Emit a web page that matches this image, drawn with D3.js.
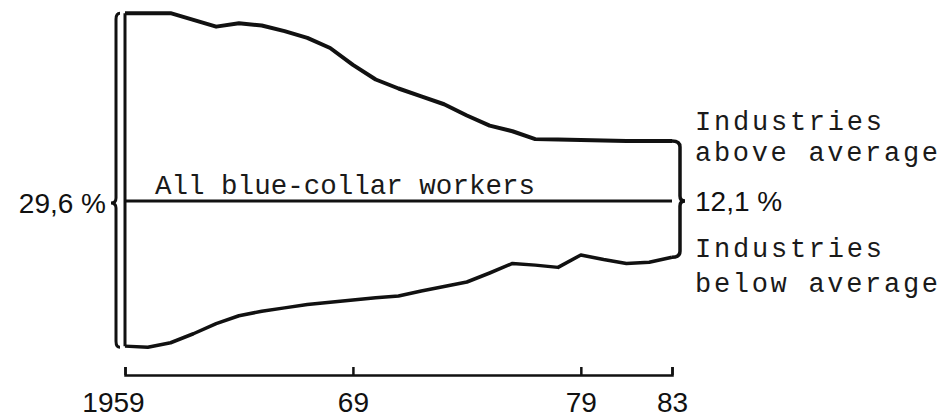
<!DOCTYPE html>
<html>
<head>
<meta charset="utf-8">
<script src="https://cdn.jsdelivr.net/npm/d3@7"></script>
<style>
  body { margin: 0; background: #fff; }
  #chart { width: 950px; height: 419px; }
  .mono { font-family: "Liberation Mono", "Courier New", monospace; fill: #1a1a1a; }
  .sans { font-family: "Liberation Sans", Arial, sans-serif; fill: #111; }
</style>
</head>
<body>
<div id="chart"></div>
<script>
/*
DATA: deviation of blue-collar share from the all-industry average,
in percentage points
*/
const years = [1959, 1960, 1961, 1962, 1963, 1964, 1965, 1966, 1967, 1968, 1969,
    1970, 1971, 1972, 1973, 1974, 1975, 1976, 1977, 1978, 1979, 1980, 1981, 1982, 1983];
const aboveAverage = [16.7, 16.7, 16.7, 16.1, 15.5, 15.8, 15.6, 15.1, 14.5, 13.6, 12.1,
    10.8, 10.0, 9.3, 8.6, 7.6, 6.7, 6.2, 5.5, 5.47, 5.42, 5.38, 5.33, 5.33, 5.33];
const belowAverage = [-12.9, -13.0, -12.6, -11.8, -10.9, -10.2, -9.8, -9.5, -9.2, -9.0, -8.8,
    -8.6, -8.45, -8.0, -7.6, -7.2, -6.4, -5.55, -5.7, -5.9, -4.8, -5.2, -5.55, -5.45, -5.0];
const tickYears = [1959, 1969, 1979, 1983];
const tickLabels = ["1959", "69", "79", "83"];
const spreadStart = "29,6 %";
const spreadEnd = "12,1 %";

const width = 950;
const height = 419;
const svg = d3.select("#chart")
    .append("svg")
    .attr("width", width)
    .attr("height", height);

/* SCALES */
const x = d3.scaleLinear()
    .domain([1959, 1983])
    .range([125, 672]);

const y = d3.scaleLinear()
    .domain([-14, 18])
    .range([358.5, -1.5]);

const upper = years.map((d, i) => ({ year: d, value: aboveAverage[i] }));
const lower = years.map((d, i) => ({ year: d, value: belowAverage[i] }));

const line = d3.line()
    .x(d => x(d.year))
    .y(d => y(d.value));

/* THE TWO CURVES, JOINED BY A VERTICAL AT 1959 */
svg.append("path")
    .datum(upper)
    .attr("d", line)
    .attr("fill", "none")
    .attr("stroke", "#111")
    .attr("stroke-width", 4)
    .attr("stroke-linejoin", "round");

svg.append("path")
    .datum(lower)
    .attr("d", line)
    .attr("fill", "none")
    .attr("stroke", "#111")
    .attr("stroke-width", 3.5)
    .attr("stroke-linejoin", "round");

svg.append("line")
    .attr("x1", x(1959)).attr("x2", x(1959))
    .attr("y1", y(aboveAverage[0])).attr("y2", y(belowAverage[0]))
    .attr("stroke", "#111")
    .attr("stroke-width", 3);

/* AVERAGE LINE */
svg.append("line")
    .attr("x1", x(1959)).attr("x2", x(1983))
    .attr("y1", y(0)).attr("y2", y(0))
    .attr("stroke", "#111")
    .attr("stroke-width", 3);

svg.append("text")
    .attr("class", "mono")
    .attr("x", x(1959) + 30)
    .attr("y", y(0) - 7)
    .attr("font-size", 27.5)
    .attr("textLength", 380)
    .attr("lengthAdjust", "spacing")
    .text("All blue-collar workers");

/* BRACES */
function brace(bx, y0, y1, ym, dir, ex) {
    // dir = -1 opens to the left ("{"), dir = 1 to the right ("}")
    return "M" + ex + "," + y0 +
        " Q" + bx + "," + y0 + " " + bx + "," + (y0 + 6) +
        " L" + bx + "," + (ym - 5) +
        " Q" + bx + "," + ym + " " + (bx + dir * 5) + "," + ym +
        " Q" + bx + "," + ym + " " + bx + "," + (ym + 5) +
        " L" + bx + "," + (y1 - 6) +
        " Q" + bx + "," + y1 + " " + ex + "," + y1;
}

svg.append("path")
    .attr("d", brace(x(1959) - 9, y(aboveAverage[0]), y(belowAverage[0]) + 1, y(0) + 2, -1, x(1959) - 5))
    .attr("fill", "none")
    .attr("stroke", "#111")
    .attr("stroke-width", 3);

const n = years.length - 1;
svg.append("path")
    .attr("d", brace(x(1983) + 8, y(aboveAverage[n]), y(belowAverage[n]), y(0), 1, x(1983)))
    .attr("fill", "none")
    .attr("stroke", "#111")
    .attr("stroke-width", 3.5);

svg.append("text")
    .attr("class", "sans")
    .attr("x", x(1959) - 19)
    .attr("y", y(0) + 12)
    .attr("text-anchor", "end")
    .attr("font-size", 28)
    .text(spreadStart);

svg.append("text")
    .attr("class", "sans")
    .attr("x", 695)
    .attr("y", y(0) + 10)
    .attr("font-size", 28)
    .text(spreadEnd);

/* SIDE LABELS */
const sideLabels = [
    { text: "Industries", y: 130, w: 187 },
    { text: "above average", y: 161, w: 243 },
    { text: "Industries", y: 257, w: 187 },
    { text: "below average", y: 292, w: 243 }
];
svg.selectAll(".side")
    .data(sideLabels)
    .enter()
    .append("text")
    .attr("class", "mono side")
    .attr("x", 695)
    .attr("y", d => d.y)
    .attr("font-size", 27)
    .attr("textLength", d => d.w)
    .attr("lengthAdjust", "spacing")
    .text(d => d.text);

/* X AXIS */
const xAxis = d3.axisBottom(x)
    .tickValues(tickYears)
    .tickFormat((d, i) => tickLabels[i])
    .tickSize(-8)
    .tickSizeOuter(-8)
    .tickPadding(17);

const axisG = svg.append("g")
    .attr("transform", "translate(0,375)")
    .call(xAxis);

axisG.select(".domain")
    .attr("stroke", "#111")
    .attr("stroke-width", 2.5);
axisG.selectAll(".tick line")
    .attr("stroke", "#111")
    .attr("stroke-width", 2.5);
axisG.selectAll(".tick text")
    .attr("font-family", "'Liberation Sans', Arial, sans-serif")
    .attr("font-size", 28)
    .attr("fill", "#111")
    .attr("dx", d => d === 1959 ? -12 : 0);
</script>
</body>
</html>
